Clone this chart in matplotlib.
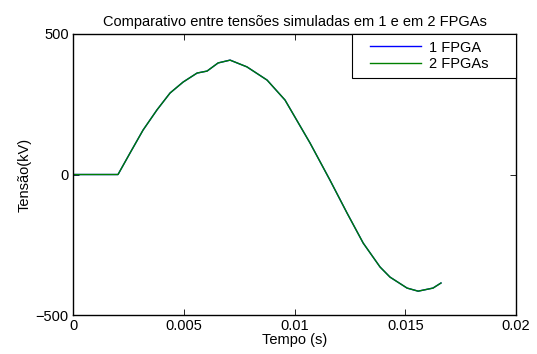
import matplotlib
matplotlib.use("Agg")
import matplotlib.pyplot as plt
from matplotlib.legend_handler import HandlerLine2D

plt.rcParams['font.family'] = ['Liberation Sans', 'DejaVu Sans']

# time (s) and voltage (kV)
t = [0.0, 0.00203, 0.00257, 0.00316, 0.00379, 0.00438, 0.00497, 0.0056,
     0.00605, 0.00655, 0.00709, 0.00785, 0.00876, 0.00957, 0.0107, 0.0116,
     0.01237, 0.0131, 0.01386, 0.01431, 0.01508, 0.01558, 0.01625, 0.01661]
v_1fpga = [0, 0, 76, 158, 230, 290, 329, 361,
           368, 397, 407, 383, 336, 265, 112, -20,
           -137, -244, -329, -365, -404, -415, -404, -386]
v_2fpga = [0, 0, 76, 158, 230, 290, 329, 361,
           368, 397, 407, 383, 336, 265, 112, -20,
           -137, -244, -329, -365, -404, -415, -404, -386]

xticks = [0, 0.005, 0.01, 0.015, 0.02]
xtick_labels = ["0", "0.005", "0.01", "0.015", "0.02"]
yticks = [-500, 0, 500]

fs = 10.5


class PaddedLine(HandlerLine2D):
    # leave a gap left of the legend line (MATLAB style legend)
    gap = 8

    def create_artists(self, legend, orig_handle, xdescent, ydescent,
                       width, height, fontsize, trans):
        return super().create_artists(legend, orig_handle, xdescent - self.gap,
                                      ydescent, width - self.gap, height,
                                      fontsize, trans)


fig = plt.figure(figsize=(5.37, 3.54), dpi=100)
ax = fig.add_axes([0.136, 0.110, 0.825, 0.794])

l1, = ax.plot(t, v_1fpga, color="#0000ff", lw=1.0, label="1 FPGA")
l2, = ax.plot(t, v_2fpga, color="#008000", lw=1.0, label="2 FPGAs")

ax.set_xlim(0, 0.02)
ax.set_ylim(-500, 500)
ax.set_xticks(xticks)
ax.set_xticklabels(xtick_labels)
ax.set_yticks(yticks)
ax.tick_params(direction="in", top=True, right=True, length=4, width=0.6,
               labelsize=fs, pad=3)
for s in ax.spines.values():
    s.set_linewidth(1.0)

ax.set_title("Comparativo entre tensões simuladas em 1 e em 2 FPGAs", fontsize=fs, pad=6)
ax.set_xlabel("Tempo (s)", fontsize=fs, labelpad=0)
ax.set_ylabel("Tensão(kV)", fontsize=fs, labelpad=3)

leg = ax.legend(handles=[l1, l2], labels=["1 FPGA     ", "2 FPGAs     "],
                loc="upper right", fontsize=fs, fancybox=False, borderaxespad=0,
                handlelength=4.3, handletextpad=0.55, framealpha=1,
                edgecolor="black", borderpad=0.45, labelspacing=0.2,
                handler_map={l1: PaddedLine(), l2: PaddedLine()})
leg.get_frame().set_linewidth(0.8)

fig.savefig("out.png", dpi=100)
